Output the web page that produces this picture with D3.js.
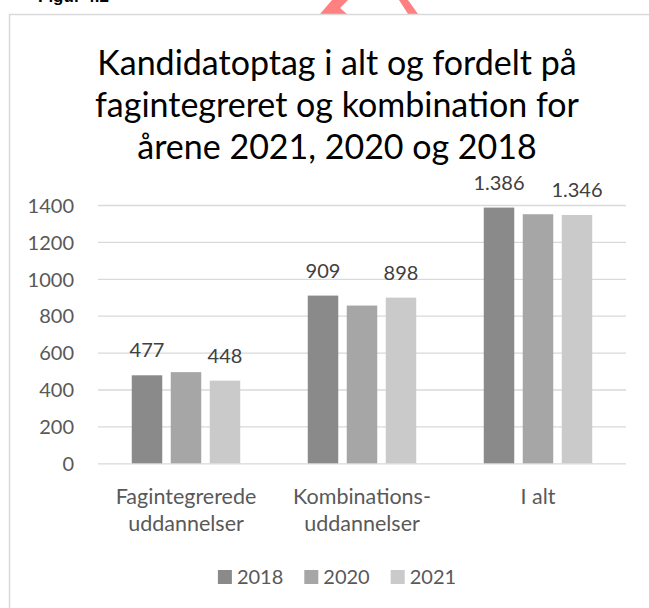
<!DOCTYPE html>
<html>
<head>
<meta charset="utf-8">
<script src="https://cdn.jsdelivr.net/npm/d3@7"></script>
<style>
  body { margin: 0; background: #fff; }
  svg { display: block; font-family: Lato, "Open Sans", sans-serif; }
</style>
</head>
<body>
<script>
// Chart data

let categories = [["Fagintegrerede", "uddannelser"], ["Kombinations-", "uddannelser"], ["I alt"]]
let categoryKeys = ["fag", "komb", "ialt"]
let years = ["2018", "2020", "2021"]
let values2018 = [477, 909, 1386]
let values2020 = [494, 855, 1350]
let values2021 = [448, 898, 1346]
let labelledYears = ["2018", "2021"]
let yTicks = [0, 200, 400, 600, 800, 1000, 1200, 1400]
let titleLines = ["Kandidatoptag i alt og fordelt på", "fagintegreret og kombination for", "årene 2021, 2020 og 2018"]

let colors = { "2018": "#8a8a8a", "2020": "#a6a6a6", "2021": "#cacaca" }

let svgWidth = 649
let svgHeight = 608

let margin = { top: 205, right: 23, bottom: 145, left: 98 };
let width = svgWidth - margin.left - margin.right;
let height = 463.3 - margin.top;

let seriesByYear = { "2018": values2018, "2020": values2020, "2021": values2021 }

let rows = categoryKeys.map((k, i) => ({
  key: k,
  lines: categories[i],
  values: years.map(y => ({ year: y, value: seriesByYear[y][i] }))
}));

let da = d3.formatLocale({ decimal: ",", thousands: ".", grouping: [3], currency: ["", " kr."] });
let fmt = da.format(",d");

let svg = d3.select("body")
  .append("svg")
  .attr("width", svgWidth)
  .attr("height", svgHeight)

// decorations from the page the chart sits on
svg.append("text")
  .attr("x", 38)
  .attr("y", 2)
  .attr("font-family", "Liberation Sans, Arial, sans-serif")
  .attr("font-weight", "bold")
  .attr("font-size", 17)
  .attr("fill", "#000")
  .text("Figur 4.2");

svg.append("polygon")
  .attr("points", "332,0 348,0 340,8 347,14 320,14")
  .attr("fill", "#ff8080");
svg.append("polygon")
  .attr("points", "399,0 408,0 418,14 408,14")
  .attr("fill", "#ff8080");

// chart border (runs off the right and bottom)
svg.append("rect")
  .attr("x", 9.5)
  .attr("y", 14.5)
  .attr("width", 680)
  .attr("height", 620)
  .attr("fill", "none")
  .attr("stroke", "#d9d9d9")
  .attr("stroke-width", 1.5)

// title
svg.append("text")
  .attr("text-anchor", "middle")
  .attr("font-size", 34)
  .attr("fill", "#000")
  .selectAll("tspan")
  .data(titleLines)
  .enter().append("tspan")
  .attr("x", 337)
  .attr("y", (d, i) => 75 + i * 42)
  .text(d => d);

let chartGroup = svg.append("g")
  .attr("transform", `translate(${margin.left}, ${margin.top})`)

// scales
let x0 = d3.scaleBand()
  .domain(categoryKeys)
  .range([0, width])
  .padding(0);

let x1 = d3.scaleBand()
  .domain(years)
  .range([0, x0.bandwidth()])
  .paddingInner(0.218)
  .paddingOuter(0.866);

let yLinearScale = d3.scaleLinear()
  .domain([0, 1400])
  .range([height, 0]);

// gridlines
let leftAxis = d3.axisLeft(yLinearScale)
  .tickValues(yTicks)
  .tickSize(-width)
  .tickPadding(24)
  .tickFormat(d3.format("d"));

let yAxis = chartGroup.append("g").call(leftAxis);
yAxis.select(".domain").remove();
yAxis.selectAll(".tick line")
  .attr("stroke", "#d9d9d9")
  .attr("stroke-width", 1.3);
yAxis.selectAll(".tick text")
  .attr("font-family", "Lato, sans-serif")
  .attr("font-size", 20)
  .attr("fill", "#595959")
  .attr("dy", "0.36em");

// bars
let groups = chartGroup.selectAll(".cat")
  .data(rows)
  .enter().append("g")
  .attr("class", "cat")
  .attr("transform", d => `translate(${x0(d.key)}, 0)`);

groups.selectAll("rect")
  .data(d => d.values)
  .enter().append("rect")
  .attr("x", d => x1(d.year))
  .attr("y", d => yLinearScale(d.value))
  .attr("width", x1.bandwidth())
  .attr("height", d => height - yLinearScale(d.value))
  .attr("fill", d => colors[d.year]);

groups.selectAll(".lbl")
  .data(d => d.values.filter(v => labelledYears.includes(v.year)))
  .enter().append("text")
  .attr("class", "lbl")
  .attr("x", d => x1(d.year) + x1.bandwidth() / 2)
  .attr("y", d => yLinearScale(d.value) - 18)
  .attr("text-anchor", "middle")
  .attr("font-size", 20)
  .attr("fill", "#404040")
  .text(d => fmt(d.value));

// category labels
groups.append("text")
  .attr("text-anchor", "middle")
  .attr("font-size", 21.5)
  .attr("fill", "#595959")
  .selectAll("tspan")
  .data(d => d.lines)
  .enter().append("tspan")
  .attr("x", x0.bandwidth() / 2)
  .attr("y", (d, i) => height + 41 + i * 27)
  .text(d => d);

// legend
let legend = svg.append("g").attr("transform", "translate(0, 570)");
let items = legend.selectAll(".item")
  .data(years)
  .enter().append("g")
  .attr("class", "item");

items.append("rect")
  .attr("width", 14)
  .attr("height", 14)
  .attr("fill", d => colors[d]);

items.append("text")
  .attr("x", 19)
  .attr("y", 14)
  .attr("font-size", 20)
  .attr("fill", "#595959")
  .text(d => d);

let widths = [];
items.each(function() { widths.push(this.getBBox().width); });
let gap = 21;
let total = d3.sum(widths) + gap * (widths.length - 1);
let cx = 337 - total / 2;
items.attr("transform", (d, i) => {
  let xx = cx;
  cx += widths[i] + gap;
  return `translate(${xx}, 0)`;
});
</script>
</body>
</html>
